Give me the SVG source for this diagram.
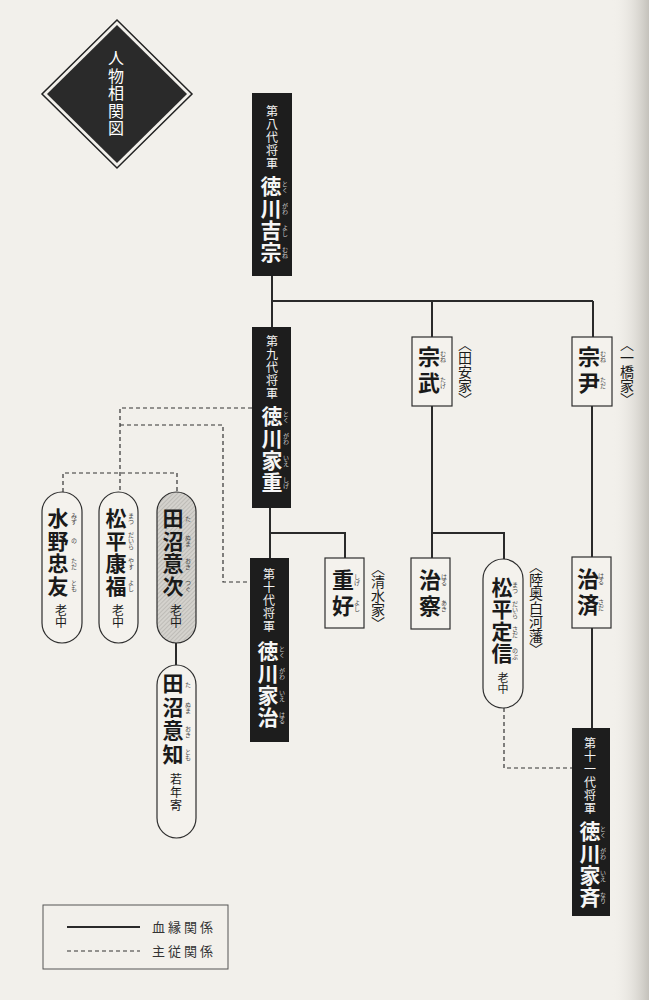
<svg xmlns="http://www.w3.org/2000/svg" width="649" height="1000" viewBox="0 0 649 1000">
<defs>
<linearGradient id="edge" x1="0" y1="0" x2="1" y2="0">
<stop offset="0" stop-color="#f2f0eb" stop-opacity="0"/>
<stop offset="1" stop-color="#b5b2ab" stop-opacity="0.75"/>
</linearGradient>
<pattern id="hatch" width="3" height="3" patternUnits="userSpaceOnUse" patternTransform="rotate(45)">
<rect width="3" height="3" fill="#d4d2cd"/>
<line x1="0" y1="0" x2="0" y2="3" stroke="#a9a7a2" stroke-width="1"/>
</pattern>
<style>
text{font-family:"Noto Sans CJK JP","Noto Sans CJK SC",sans-serif}
.v{writing-mode:vertical-rl;text-orientation:upright}
.sbox{fill:#1d1d1d}
.wbox{fill:#f4f2ed;stroke:#2e2e2e;stroke-width:1.2}
.title{font-size:12px;fill:#f2f2f2;letter-spacing:1px}
.sname{font-size:21px;font-weight:bold;fill:#f5f5f5;letter-spacing:1px}
.name{font-size:21px;font-weight:bold;fill:#1a1a1a}
.rw{font-size:6px;fill:#cfcfcf}
.rb{font-size:6px;fill:#444}
.role{font-size:12px;fill:#1a1a1a;letter-spacing:0.5px}
.house{font-size:14px;fill:#1a1a1a}
.solid{fill:none;stroke:#2a2a2a;stroke-width:2}
.dash{fill:none;stroke:#333;stroke-width:1.2;stroke-dasharray:4 3}
.leg{font-size:13px;fill:#333;letter-spacing:3px}
</style>
</defs>
<rect width="649" height="1000" fill="#f2f0eb"/>
<rect x="612" y="0" width="37" height="1000" fill="url(#edge)"/>

<g id="title-diamond">
<polygon points="117,20 192,94 117,168 42,94" fill="none" stroke="#222" stroke-width="1.5"/>
<polygon points="117,25 187,94 117,163 47,94" fill="#2a2a2a"/>
<text class="v" x="116" y="50" style="font-size:16px;fill:#fff;letter-spacing:1.5px">人物相関図</text>
</g>

<g id="connectors">
<path class="solid" d="M272,276V327"/>
<path class="solid" d="M272,301H593"/>
<path class="solid" d="M432,301V337"/>
<path class="solid" d="M593,301V337"/>
<path class="solid" d="M270,508V558"/>
<path class="solid" d="M270,533H345V558"/>
<path class="solid" d="M432,406V558"/>
<path class="solid" d="M432,533H504V559"/>
<path class="solid" d="M592,406V557"/>
<path class="solid" d="M592,628V728"/>
<path class="solid" d="M176,643V665"/>
<path class="dash" d="M252,408H120V492"/>
<path class="dash" d="M120,425H223V582H250"/>
<path class="dash" d="M63,492V473H177V492"/>
<path class="dash" d="M504,708V768H572"/>
</g>

<g id="yoshimune">
<rect class="sbox" x="252" y="93" width="40" height="183"/>
<text class="v title" x="272" y="105">第八代将軍</text>
<text class="v sname" x="271" y="176">徳川吉宗</text>
<text class="v rw" x="285" y="187" text-anchor="middle">とく</text>
<text class="v rw" x="285" y="209" text-anchor="middle">がわ</text>
<text class="v rw" x="285" y="231" text-anchor="middle">よし</text>
<text class="v rw" x="285" y="253" text-anchor="middle">むね</text>
</g>

<g id="ieshige">
<rect class="sbox" x="252" y="327" width="39" height="181"/>
<text class="v title" x="272" y="335">第九代将軍</text>
<text class="v sname" x="272" y="406">徳川家重</text>
<text class="v rw" x="286" y="417" text-anchor="middle">とく</text>
<text class="v rw" x="286" y="439" text-anchor="middle">がわ</text>
<text class="v rw" x="286" y="461" text-anchor="middle">いえ</text>
<text class="v rw" x="286" y="483" text-anchor="middle">しげ</text>
</g>

<g id="ieharu">
<rect class="sbox" x="250" y="558" width="39" height="184"/>
<text class="v title" x="269" y="568">第十代将軍</text>
<text class="v sname" x="268" y="641">徳川家治</text>
<text class="v rw" x="282" y="652" text-anchor="middle">とく</text>
<text class="v rw" x="282" y="674" text-anchor="middle">がわ</text>
<text class="v rw" x="282" y="696" text-anchor="middle">いえ</text>
<text class="v rw" x="282" y="718" text-anchor="middle">はる</text>
</g>

<g id="ienari">
<rect class="sbox" x="572" y="728" width="38" height="188"/>
<text class="v title" x="590" y="737">第十一代将軍</text>
<text class="v sname" x="590" y="821">徳川家斉</text>
<text class="v rw" x="603" y="832" text-anchor="middle">とく</text>
<text class="v rw" x="603" y="854" text-anchor="middle">がわ</text>
<text class="v rw" x="603" y="876" text-anchor="middle">いえ</text>
<text class="v rw" x="603" y="898" text-anchor="middle">なり</text>
</g>

<g id="munetake">
<rect class="wbox" x="412" y="337" width="40" height="69"/>
<text class="v name" x="429" y="346" style="font-size:22px;letter-spacing:4px">宗武</text>
<text class="v rb" x="443" y="357" text-anchor="middle">むね</text>
<text class="v rb" x="443" y="383" text-anchor="middle">たけ</text>
<text class="v house" x="465" y="337">〈田安家〉</text>
</g>

<g id="munetada">
<rect class="wbox" x="572" y="337" width="40" height="69"/>
<text class="v name" x="589" y="346" style="font-size:22px;letter-spacing:4px">宗尹</text>
<text class="v rb" x="603" y="357" text-anchor="middle">むね</text>
<text class="v rb" x="603" y="383" text-anchor="middle">ただ</text>
<text class="v house" x="627" y="337">〈一橋家〉</text>
</g>

<g id="shigeyoshi">
<rect class="wbox" x="325" y="558" width="39" height="70"/>
<text class="v name" x="343" y="569" style="font-size:22px;letter-spacing:4px">重好</text>
<text class="v rb" x="357" y="580" text-anchor="middle">しげ</text>
<text class="v rb" x="357" y="606" text-anchor="middle">よし</text>
<text class="v house" x="378" y="561">〈清水家〉</text>
</g>

<g id="haruaki">
<rect class="wbox" x="411" y="558" width="39" height="71"/>
<text class="v name" x="430" y="569" style="font-size:22px;letter-spacing:4px">治察</text>
<text class="v rb" x="444" y="580" text-anchor="middle">はる</text>
<text class="v rb" x="444" y="606" text-anchor="middle">あき</text>
</g>

<g id="harusada">
<rect class="wbox" x="572" y="557" width="39" height="71"/>
<text class="v name" x="588" y="568" style="font-size:22px;letter-spacing:4px">治済</text>
<text class="v rb" x="601" y="579" text-anchor="middle">はる</text>
<text class="v rb" x="601" y="605" text-anchor="middle">さだ</text>
</g>

<g id="sadanobu">
<rect class="wbox" x="483" y="559" width="40" height="149" rx="20" ry="20"/>
<text class="v name" x="502" y="577" style="letter-spacing:1px">松平定信</text>
<text class="v rb" x="515" y="588" text-anchor="middle">まつ</text>
<text class="v rb" x="515" y="610" text-anchor="middle">だいら</text>
<text class="v rb" x="515" y="632" text-anchor="middle">さだ</text>
<text class="v rb" x="515" y="654" text-anchor="middle">のぶ</text>
<text class="v role" x="503" y="672" style="font-size:11px">老中</text>
<text class="v house" x="536" y="559">〈陸奥白河藩〉</text>
</g>

<g id="mizuno">
<rect class="wbox" x="42" y="492" width="40" height="151" rx="20" ry="20"/>
<text class="v name" x="58" y="508" style="letter-spacing:1.5px">水野忠友</text>
<text class="v rb" x="74" y="519" text-anchor="middle">みず</text>
<text class="v rb" x="74" y="541" text-anchor="middle">の</text>
<text class="v rb" x="74" y="564" text-anchor="middle">ただ</text>
<text class="v rb" x="74" y="586" text-anchor="middle">とも</text>
<text class="v role" x="61" y="604">老中</text>
</g>

<g id="yasuyoshi">
<rect class="wbox" x="99" y="492" width="39" height="151" rx="19.5" ry="20"/>
<text class="v name" x="116" y="508" style="letter-spacing:1.5px">松平康福</text>
<text class="v rb" x="131" y="519" text-anchor="middle">まつ</text>
<text class="v rb" x="131" y="541" text-anchor="middle">だいら</text>
<text class="v rb" x="131" y="564" text-anchor="middle">やす</text>
<text class="v rb" x="131" y="586" text-anchor="middle">よし</text>
<text class="v role" x="118" y="604">老中</text>
</g>

<g id="okitsugu">
<rect x="157" y="492" width="39" height="151" rx="19.5" ry="20" fill="url(#hatch)" stroke="#2e2e2e" stroke-width="1.2"/>
<text class="v name" x="173" y="508" style="letter-spacing:1.5px">田沼意次</text>
<text class="v rb" x="188" y="519" text-anchor="middle">た</text>
<text class="v rb" x="188" y="541" text-anchor="middle">ぬま</text>
<text class="v rb" x="188" y="564" text-anchor="middle">おき</text>
<text class="v rb" x="188" y="586" text-anchor="middle">つぐ</text>
<text class="v role" x="176" y="604">老中</text>
</g>

<g id="okitomo">
<rect class="wbox" x="157" y="665" width="39" height="173" rx="19.5" ry="20"/>
<text class="v name" x="173" y="673" style="letter-spacing:2.5px">田沼意知</text>
<text class="v rb" x="188" y="685" text-anchor="middle">た</text>
<text class="v rb" x="188" y="708" text-anchor="middle">ぬま</text>
<text class="v rb" x="188" y="732" text-anchor="middle">おき</text>
<text class="v rb" x="188" y="755" text-anchor="middle">とも</text>
<text class="v role" x="176" y="773" style="letter-spacing:1px">若年寄</text>
</g>

<g id="legend">
<rect x="43" y="905" width="185" height="64" fill="none" stroke="#555" stroke-width="1"/>
<line class="solid" x1="67" y1="927" x2="140" y2="927"/>
<line class="dash" x1="67" y1="951" x2="140" y2="951"/>
<text class="leg" x="152" y="932">血縁関係</text>
<text class="leg" x="152" y="956">主従関係</text>
</g>
</svg>
